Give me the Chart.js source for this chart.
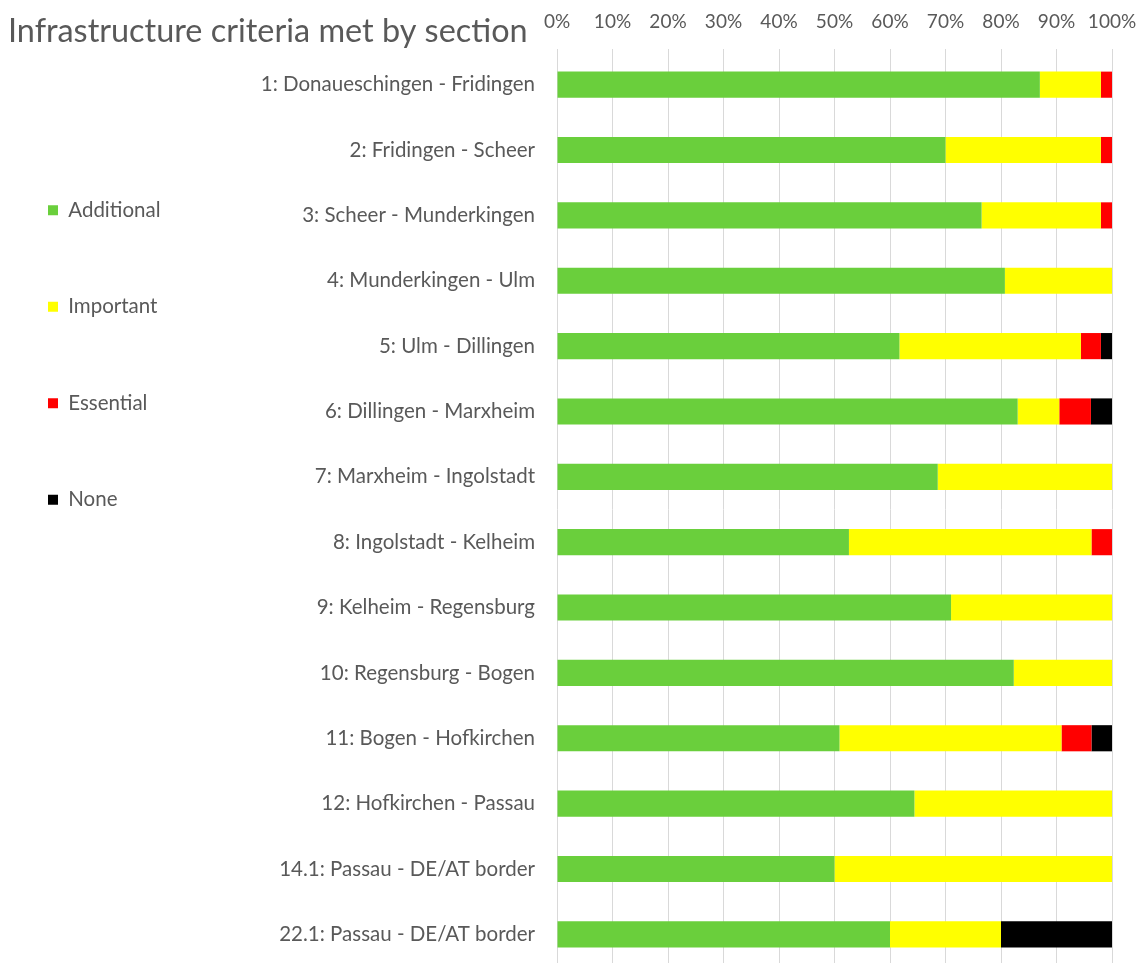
<!DOCTYPE html>
<html>
<head>
<meta charset="utf-8">
<script src="https://cdn.jsdelivr.net/npm/chart.js@4/dist/chart.umd.min.js"></script>
<style>
html, body { margin: 0; padding: 0; background: #fff; overflow: hidden; }
#wrap { width: 1144px; height: 967px; position: relative; }
</style>
</head>
<body>
<div id="wrap"><canvas id="sectionChart"></canvas></div>
<script>
const sections = [
  '1: Donaueschingen - Fridingen',
  '2: Fridingen - Scheer',
  '3: Scheer - Munderkingen',
  '4: Munderkingen - Ulm',
  '5: Ulm - Dillingen',
  '6: Dillingen - Marxheim',
  '7: Marxheim - Ingolstadt',
  '8: Ingolstadt - Kelheim',
  '9: Kelheim - Regensburg',
  '10: Regensburg - Bogen',
  '11: Bogen - Hofkirchen',
  '12: Hofkirchen - Passau',
  '14.1: Passau - DE/AT border',
  '22.1: Passau - DE/AT border',
];
const additional = [87, 70, 76.5, 80.7, 61.7, 83, 68.6, 52.6, 71, 82.3, 50.9, 64.4, 50, 60];
const important  = [11, 28, 21.5, 19.3, 32.7, 7.5, 31.4, 43.7, 29, 17.7, 40, 35.6, 50, 20];
const essential  = [2, 2, 2, 0, 3.6, 5.7, 0, 3.7, 0, 0, 5.4, 0, 0, 0];
const none       = [0, 0, 0, 0, 2, 3.8, 0, 0, 0, 0, 3.7, 0, 0, 20];
const xTicks = [0, 10, 20, 30, 40, 50, 60, 70, 80, 90, 100];

const textGrey = '#595959';
const font = 'Lato, "Noto Sans", sans-serif';

// title sits on the same line as the top axis labels, so draw it by hand
const titlePlugin = {
  id: 'sideTitle',
  afterDraw(chart) {
    const ctx = chart.ctx;
    ctx.save();
    ctx.font = '32.4px ' + font;
    ctx.fillStyle = textGrey;
    ctx.textBaseline = 'alphabetic';
    ctx.fillText('Infrastructure criteria met by section', 8, 42);
    ctx.restore();
  }
};

const data = {
  labels: sections,
  datasets: [
    { label: 'Additional', data: additional, backgroundColor: '#6acf3c' },
    { label: 'Important', data: important, backgroundColor: '#ffff00' },
    { label: 'Essential', data: essential, backgroundColor: '#ff0000' },
    { label: 'None', data: none, backgroundColor: '#000000' },
  ]
};

const config = {
  type: 'bar',
  data: data,
  plugins: [titlePlugin],
  options: {
    indexAxis: 'y',
    responsive: true,
    maintainAspectRatio: false,
    animation: false,
    datasets: {
      bar: { barPercentage: 0.8, categoryPercentage: 0.5, borderWidth: 0 }
    },
    layout: { padding: { top: 0, right: 32, bottom: 0, left: -28 } },
    scales: {
      x: {
        position: 'top',
        stacked: true,
        min: 0,
        max: 100,
        afterBuildTicks(axis) { axis.ticks = xTicks.map(v => ({ value: v })); },
        afterFit(axis) {
          axis.height = 52;
          axis.paddingLeft = 0;
          axis.paddingRight = 0;
        },
        ticks: {
          callback: v => v + '%',
          color: textGrey,
          font: { family: font, size: 19 },
          padding: 16,
          maxRotation: 0,
        },
        grid: { color: '#d9d9d9', tickLength: 3, drawTicks: true },
        border: { display: false },
      },
      y: {
        stacked: true,
        afterFit(axis) {
          axis.width = 585 - (axis.chart.legend ? axis.chart.legend.width : 0);
          axis.paddingTop = 0;
          axis.paddingBottom = 0;
        },
        ticks: {
          color: textGrey,
          font: { family: font, size: 20.5 },
          padding: 14,
        },
        grid: { display: false },
        border: { display: false },
      }
    },
    plugins: {
      legend: {
        position: 'left',
        align: 'start',
        title: { display: true, text: ' ', font: { size: 10 }, padding: { top: 112, bottom: 0 } },
        labels: {
          color: textGrey,
          font: { family: font, size: 20.5 },
          boxWidth: 10,
          boxHeight: 10,
          padding: 76,
        }
      },
      tooltip: { enabled: false }
    }
  }
};

const sectionChart = new Chart(document.getElementById('sectionChart'), config);
</script>
</body>
</html>
